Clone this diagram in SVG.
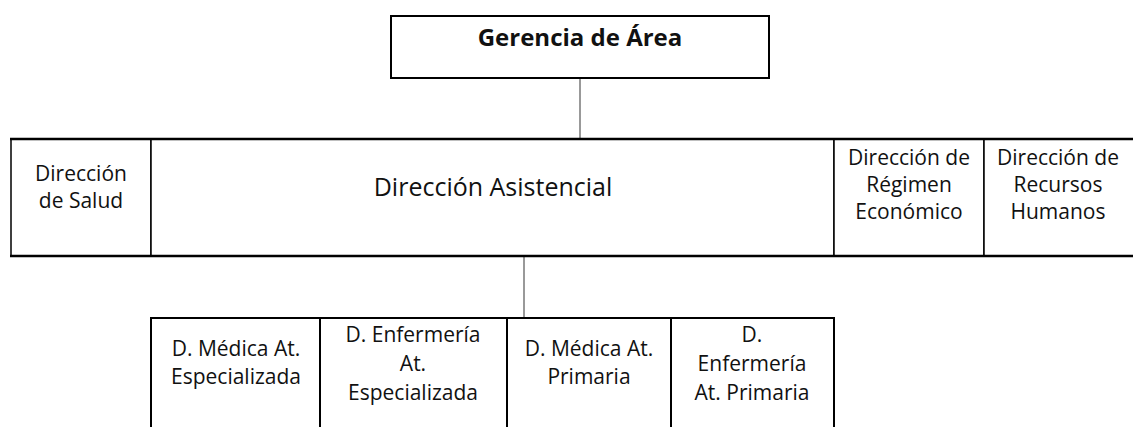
<svg xmlns="http://www.w3.org/2000/svg" width="1133" height="427" viewBox="0 0 1133 427">
  <style>
    .box { fill: #ffffff; stroke: #000000; stroke-width: 2; }
    .mid { fill: #ffffff; stroke: #000000; stroke-width: 1.5; }
    .conn { stroke: #555555; stroke-width: 1.2; fill: none; }
    .t { font-family: "Open Sans", "Liberation Sans", sans-serif; fill: #111111; text-anchor: middle; }
    .title { font-size: 24px; font-weight: bold; }
    .big { font-size: 25px; }
    .sm { font-size: 21px; }
  </style>
  <rect width="1133" height="427" fill="#ffffff"/>
  <g id="connectors">
    <line class="conn" x1="580" y1="78" x2="580" y2="139"/>
    <line class="conn" x1="524" y1="256" x2="524" y2="318"/>
  </g>
  <g id="gerencia">
    <rect class="box" x="391" y="16" width="378" height="62"/>
    <text class="t title" x="580" y="46">Gerencia de Área</text>
  </g>
  <g id="dir-salud">
    <rect class="mid" x="11" y="139" width="140" height="117"/>
    <text class="t sm" x="81" y="181">Dirección</text>
    <text class="t sm" x="81" y="208">de Salud</text>
  </g>
  <g id="dir-asistencial">
    <rect class="mid" x="151" y="139" width="683" height="117"/>
    <text class="t big" x="493" y="196">Dirección Asistencial</text>
  </g>
  <g id="dir-regimen">
    <rect class="mid" x="834" y="139" width="150" height="117"/>
    <text class="t sm" x="909" y="165">Dirección de</text>
    <text class="t sm" x="909" y="192">Régimen</text>
    <text class="t sm" x="909" y="219">Económico</text>
  </g>
  <g id="dir-rrhh">
    <rect class="mid" x="984" y="139" width="160" height="117"/>
    <text class="t sm" x="1058" y="165">Dirección de</text>
    <text class="t sm" x="1058" y="192">Recursos</text>
    <text class="t sm" x="1058" y="219">Humanos</text>
  </g>
  <g id="middle-row-edges">
    <line x1="10" y1="139" x2="1133" y2="139" stroke="#000000" stroke-width="2.5"/>
    <line x1="10" y1="256" x2="1133" y2="256" stroke="#000000" stroke-width="2.5"/>
  </g>
  <g id="d-medica-esp">
    <rect class="box" x="151" y="318" width="169" height="130"/>
    <text class="t sm" x="236" y="356">D. Médica At.</text>
    <text class="t sm" x="236" y="384">Especializada</text>
  </g>
  <g id="d-enf-esp">
    <rect class="box" x="320" y="318" width="187" height="130"/>
    <text class="t sm" x="413" y="342">D. Enfermería</text>
    <text class="t sm" x="413" y="371">At.</text>
    <text class="t sm" x="413" y="400">Especializada</text>
  </g>
  <g id="d-medica-pri">
    <rect class="box" x="507" y="318" width="164" height="130"/>
    <text class="t sm" x="589" y="356">D. Médica At.</text>
    <text class="t sm" x="589" y="384">Primaria</text>
  </g>
  <g id="d-enf-pri">
    <rect class="box" x="671" y="318" width="163" height="130"/>
    <text class="t sm" x="752" y="342">D.</text>
    <text class="t sm" x="752" y="371">Enfermería</text>
    <text class="t sm" x="752" y="400">At. Primaria</text>
  </g>
</svg>
